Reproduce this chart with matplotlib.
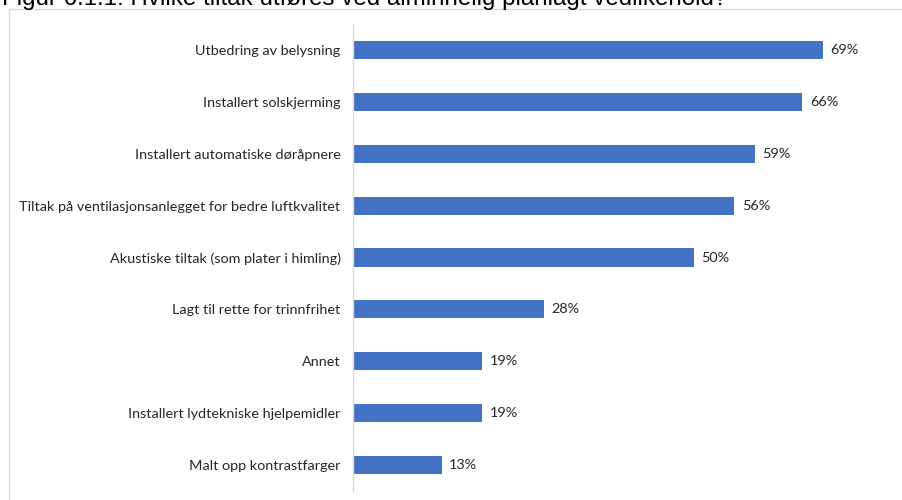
import matplotlib
matplotlib.use("Agg")
import matplotlib.pyplot as plt
from matplotlib.patches import Rectangle

categories = [
    "Utbedring av belysning",
    "Installert solskjerming",
    "Installert automatiske døråpnere",
    "Tiltak på ventilasjonsanlegget for bedre luftkvalitet",
    "Akustiske tiltak (som plater i himling)",
    "Lagt til rette for trinnfrihet",
    "Annet",
    "Installert lydtekniske hjelpemidler",
    "Malt opp kontrastfarger",
]
values = [69, 66, 59, 56, 50, 28, 19, 19, 13]
value_labels = ["69%", "66%", "59%", "56%", "50%", "28%", "19%", "19%", "13%"]
title = "Figur 6.1.1: Hvilke tiltak utføres ved alminnelig planlagt vedlikehold?"

bar_color = "#4472C4"
label_font = ["Lato", "DejaVu Sans"]

fig = plt.figure(figsize=(9.02, 5.0), dpi=100)

# outer chart frame (extends past the right and bottom image edges, as in the reference)
frame = Rectangle((9 / 902, -10 / 500), 920 / 902, 501 / 500, transform=fig.transFigure,
                  fill=False, edgecolor="#D9D9D9", linewidth=1.0)
fig.patches.append(frame)

fig.text(2 / 902, 1.0 - 5.5 / 500, title, ha="left", va="baseline", fontsize=17.4,
         family=["Liberation Sans", "DejaVu Sans"], color="#000000")

ax = fig.add_axes([353 / 902, 9.5 / 500, 537 / 902, 466 / 500])
y = list(range(len(categories)))
ax.barh(y, values, height=0.35, color=bar_color)
ax.set_ylim(len(categories) - 0.5, -0.5)
ax.set_xlim(0, 537 / 6.81)
ax.set_yticks(y)
ax.set_yticklabels(categories, family=label_font, fontsize=10.4, color="#262626")
ax.tick_params(axis="y", length=0, pad=9)
ax.set_xticks([])
for s in ["top", "right", "bottom"]:
    ax.spines[s].set_visible(False)
ax.spines["left"].set_color("#D9D9D9")
ax.spines["left"].set_linewidth(1.0)

for yi, v, lab in zip(y, values, value_labels):
    ax.annotate(lab, (v, yi), xytext=(5.5, 0), textcoords="offset points",
                ha="left", va="center", family=label_font, fontsize=10.4, color="#262626")

fig.savefig("out.png", dpi=100)
